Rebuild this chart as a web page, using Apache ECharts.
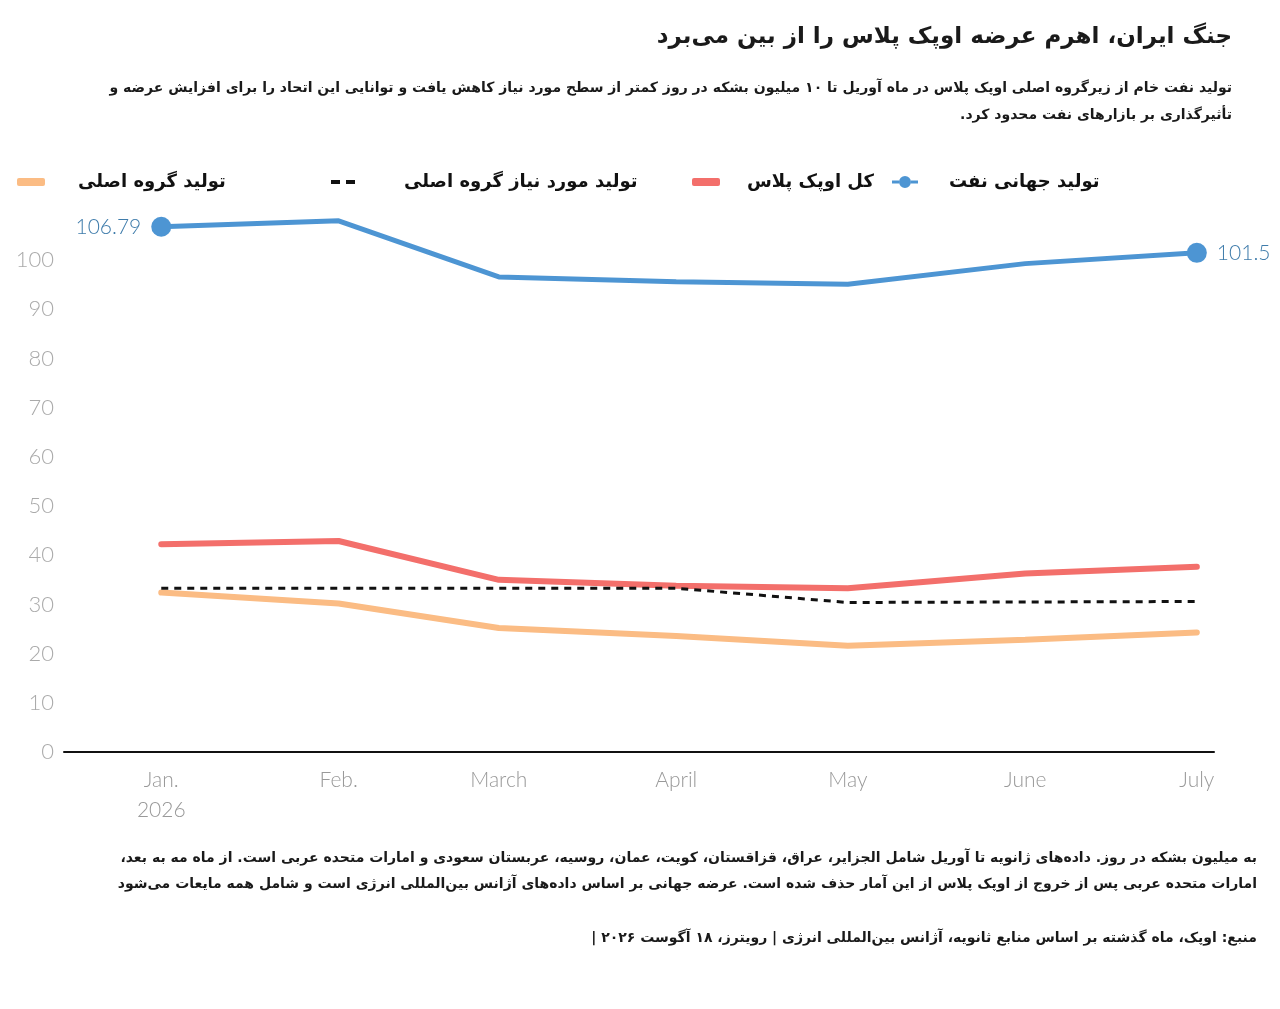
<!DOCTYPE html>
<html><head><meta charset="utf-8">
<script src="https://cdn.jsdelivr.net/npm/echarts@6/dist/echarts.min.js"></script>
<style>html,body{margin:0;padding:0;background:#fff}#c{width:1280px;height:1009px}</style>
</head><body><div id="c" dir="rtl"></div>
<script>
// ---- data ----
const months = ['2026-01-01','2026-02-01','2026-03-01','2026-04-01','2026-05-01','2026-06-01','2026-07-01'];
const monthLabels = ['Jan.\u200E\n2026','Feb.\u200E','March','April','May','June','July'];
const worldSupply    = [106.79, 108.0, 96.6, 95.6, 95.1, 99.3, 101.5];
const opecPlusTotal  = [42.26, 42.9, 35.0, 33.8, 33.3, 36.3, 37.66];
const coreRequired   = [33.3, 33.3, 33.3, 33.3, 30.4, 30.5, 30.6];
const coreProduction = [32.41, 30.2, 25.2, 23.6, 21.6, 22.8, 24.3];
const yTicks = [0, 10, 20, 30, 40, 50, 60, 70, 80, 90, 100];

const names = {
  world: 'تولید جهانی نفت',
  opec: 'کل اوپک پلاس',
  req: 'تولید مورد نیاز گروه اصلی',
  core: 'تولید گروه اصلی'
};
const titleText = 'جنگ ایران، اهرم عرضه اوپک پلاس را از بین می‌برد';
const subText = 'تولید نفت خام از زیرگروه اصلی اوپک پلاس در ماه آوریل تا ۱۰ میلیون بشکه در روز کمتر از سطح مورد نیاز کاهش یافت و توانایی این اتحاد را برای افزایش عرضه و\nتأثیرگذاری بر بازارهای نفت محدود کرد.';
const noteText = 'به میلیون بشکه در روز. داده‌های ژانویه تا آوریل شامل الجزایر، عراق، قزاقستان، کویت، عمان، روسیه، عربستان سعودی و امارات متحده عربی است. از ماه مه به بعد،\nامارات متحده عربی پس از خروج از اوپک پلاس از این آمار حذف شده است. عرضه جهانی بر اساس داده‌های آژانس بین‌المللی انرژی است و شامل همه مایعات می‌شود';
const sourceText = 'منبع: اوپک، ماه گذشته بر اساس منابع ثانویه، آژانس بین‌المللی انرژی | رویترز، ۱۸ آگوست ۲۰۲۶ |';

// ---- helpers ----
const t0 = Date.parse(months[0]);
const days = months.map(m => Math.round((Date.parse(m) - t0) / 86400000));
const faFont = 'DejaVu Sans, sans-serif';
const numFont = 'Lato, "Open Sans", sans-serif';

function build(vals, labelColor, withLabels) {
  const last = vals.length - 1;
  return vals.map((v, i) => {
    const item = { value: [days[i], v] };
    if (withLabels && (i === 0 || i === last)) {
      item.label = {
        show: true, position: i === 0 ? 'left' : 'right', distance: 10,
        formatter: String(v), color: labelColor, fontSize: 21, fontWeight: 300, fontFamily: numFont
      };
    }
    return item;
  });
}

function legendAt(item, left, pad, w, h) {
  return {
    data: [item], left: left, top: 173, itemWidth: w, itemHeight: h, padding: 0,
    selectedMode: false,
    textStyle: { fontSize: 18, fontWeight: 'bold', color: '#111', fontFamily: faFont, padding: [0, 0, 0, pad] }
  };
}

function textBlock(text, x, top, size, lh) {
  return { text: text, left: x, top: top, padding: 0, textAlign: 'right',
    textStyle: { fontSize: size, fontWeight: 'bold', color: '#1a1a1a', fontFamily: faFont, lineHeight: lh } };
}

const chart = echarts.init(document.getElementById('c'), null, { renderer: 'canvas' });
chart.setOption({
  backgroundColor: '#fff',
  animation: false,
  title: [
    textBlock(titleText, 1232, 23, 23, 28),
    textBlock(subText, 1232, 75, 14, 27),
    textBlock(noteText, 1257, 845, 14, 26),
    textBlock(sourceText, 1257, 925, 14, 26)
  ],
  legend: [
    legendAt({ name: names.world, icon: 'path://M0,4.5h7v3h-7z M19,4.5h7v3h-7z M7,6a6,6 0 1,1 12,0a6,6 0 1,1 -12,0z' }, 892, 26, 26, 12),
    legendAt({ name: names.opec, icon: 'roundRect' }, 692, 22, 28, 8),
    legendAt({ name: names.req, icon: 'path://M0,0h9v4h-9z M15,0h9v4h-9z' }, 331, 44, 24, 4),
    legendAt({ name: names.core, icon: 'roundRect' }, 17, 28, 28, 8)
  ],
  grid: { left: 64, right: 66, top: 211, bottom: 257, containLabel: false },
  xAxis: {
    type: 'value', min: -17, max: 184,
    axisLine: { show: true, lineStyle: { color: '#111', width: 2 } },
    axisTick: { show: false },
    splitLine: { show: false },
    axisLabel: {
      customValues: days, margin: 13,
      formatter: v => monthLabels[days.indexOf(v)] || '',
      color: '#999', fontSize: 21, fontWeight: 300, fontFamily: numFont, lineHeight: 30
    }
  },
  yAxis: {
    type: 'value', min: 0, max: 110, interval: 10,
    axisLine: { show: false }, axisTick: { show: false }, splitLine: { show: false },
    axisLabel: {
      margin: 10, color: '#aaa', fontSize: 22, fontWeight: 300, fontFamily: numFont,
      formatter: v => (yTicks.indexOf(v) >= 0 ? String(v) : '')
    }
  },
  series: [
    { name: names.world, type: 'line', data: build(worldSupply, '#3f7cab', true),
      symbol: 'circle', symbolSize: (v, p) => (p.dataIndex === 0 || p.dataIndex === worldSupply.length - 1) ? 20 : 0,
      showAllSymbol: true, z: 5,
      lineStyle: { color: '#4d95d3', width: 5 }, itemStyle: { color: '#4d95d3' } },
    { name: names.opec, type: 'line', data: build(opecPlusTotal, '#b9474b', true),
      symbol: 'none', z: 4,
      lineStyle: { color: '#f36f6b', width: 6, cap: 'round' }, itemStyle: { color: '#f36f6b' } },
    { name: names.req, type: 'line', data: build(coreRequired, '#111', false),
      symbol: 'none', z: 6,
      lineStyle: { color: '#111', width: 3, type: [7, 6] }, itemStyle: { color: '#111' } },
    { name: names.core, type: 'line', data: build(coreProduction, '#8d6b4c', true),
      symbol: 'none', z: 3,
      lineStyle: { color: '#fbbc84', width: 6, cap: 'round' }, itemStyle: { color: '#fbbc84' } }
  ]
});
</script></body></html>
